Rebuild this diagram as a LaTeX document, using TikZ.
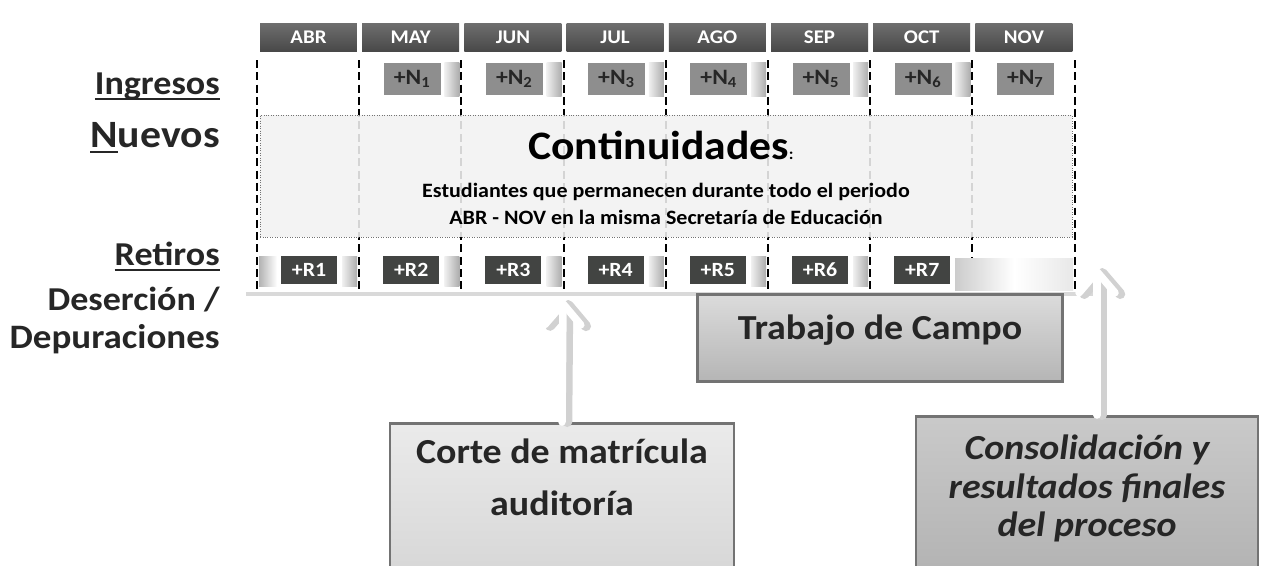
\documentclass[tikz,border=0pt]{standalone}
\usepackage{fontspec}
\setmainfont{Carlito}[FakeStretch=1.08]
\usetikzlibrary{shadows,arrows.meta,positioning}

\definecolor{tinta}{RGB}{38,38,38}
\definecolor{mestop}{RGB}{110,110,110}
\definecolor{mesbot}{RGB}{72,72,72}
\definecolor{ngris}{RGB}{142,142,142}
\definecolor{rgris}{RGB}{66,68,66}
\definecolor{fondo}{RGB}{242,242,242}
\newcommand{\tam}[1]{\fontsize{#1}{1.2\dimexpr#1pt\relax}\selectfont}
\newcommand{\subr}[1]{\setbox0\hbox{#1}\rlap{\rule[-3.5pt]{\wd0}{1.3pt}}\box0}

\begin{document}
\begin{tikzpicture}[x=0.02cm,y=-0.02cm,
	mes/.style={minimum width=1.94cm, minimum height=0.56cm, inner sep=0pt, top color=mestop, bottom color=mesbot, text=white, font=\bfseries\tam{11}},
	nbox/.style={minimum width=1.14cm, minimum height=0.64cm, inner sep=0pt, text height=8.5pt, text depth=2pt, fill=ngris, text=tinta, font=\bfseries\tam{12.5}},
	rbox/.style={minimum width=1.12cm, minimum height=0.56cm, inner sep=0pt, text height=7.5pt, text depth=0pt, fill=rgris, text=white, font=\bfseries\tam{11.5}},
	sep/.style={line width=1.1pt, dash pattern=on 4.5pt off 2.5pt},
	lab/.style={anchor=base east, inner sep=0pt, text=tinta, font=\bfseries\tam{19}},
	bisel/.style={draw=black!55, line width=1.6pt, text=tinta, inner sep=0pt},
	flecha/.style={line width=0.15cm, white, line cap=round, -{Straight Barb[length=0.42cm, width=0.72cm, round]}},
	sombra/.style={line width=0.2cm, black!18, line cap=round, -{Straight Barb[length=0.42cm, width=0.72cm, round]}}]
	\useasboundingbox (0,0) rectangle (1263,565);
	\clip (0,0) rectangle (1263,565);

	% panel de meses
	\path[fill=white, drop shadow={shadow xshift=0pt, shadow yshift=-2pt, opacity=0.3}] (246,12) rectangle (1093,292);

	\foreach \m [count=\i from 0] in {ABR,MAY,JUN,JUL,AGO,SEP,OCT,NOV}
		\node[mes] (m\i) at ({257+102.2*\i+51.5},37.5) {\m};

	\foreach \i in {0,...,8}
		\draw[sep] ({257+102.2*\i},60) -- ({257+102.2*\i},292);

	% ingresos nuevos
	\foreach \i in {1,...,6}
		\shade[left color=gray!12, right color=gray!65] ({257+102.2*(\i+1)-17},62) rectangle ({257+102.2*(\i+1)-2},96);
	\foreach \i in {1,...,7}
		\node[nbox] (n\i) at ({257+102.2*\i+53},79) {+N\textsubscript{\i}};

	% continuidades
	\node[draw=black!55, densely dotted, fill=fondo, fill opacity=0.88, minimum width=16.24cm, minimum height=2.44cm] (cont) at (666,176) {};
	\node[text=black, font=\bfseries\tam{23}] (tit) at (661,145) {Continuidades{\tam{9}:}};
	\node[text=black, font=\bfseries\tam{11.6}, align=center] (sub) at (666,204) {Estudiantes que permanecen durante todo el periodo\\[1pt] ABR - NOV en la misma Secretaría de Educación};

	% retiros
	\shade[left color=gray!60, right color=white] (259,256) rectangle (277,286);
	\foreach \i in {1,...,6}
		\shade[left color=gray!12, right color=gray!65] ({257+102.2*\i-17},256) rectangle ({257+102.2*\i-2},286);
	\shade[left color=gray!40, right color=gray!18, middle color=white] (955,258) rectangle (1073,290);
	\foreach \i in {1,...,7}
		\node[rbox] (r\i) at ({257+102.2*(\i-1)+52},269.5) {+R\i};

	% etiquetas
	\node[lab] (ing) at (220,94) {\subr{Ingresos}};
	\node[lab, font=\bfseries\tam{22}] (nue) at (220,147) {\subr{N}uevos};
	\node[lab] (ret) at (220,265) {\subr{Retiros}};
	\node[lab] (des) at (220,310) {Deserción /};
	\node[lab, font=\bfseries\tam{19.5}] (dep) at (220,348) {Depuraciones};

	% cajas de proceso
	\node[bisel, top color=gray!28, bottom color=gray!58, minimum width=7.3cm, minimum height=1.74cm, text depth=0.45cm, font=\bfseries\tam{20}] (campo) at (880,338) {Trabajo de Campo};
	\node[bisel, top color=gray!16, bottom color=gray!32, anchor=north, minimum width=6.88cm, minimum height=3.1cm, text depth=0.95cm, align=center, font=\bfseries\fontsize{20}{29.5}\selectfont] (corte) at (562,422) {Corte de matrícula\\ auditoría};
	\node[bisel, top color=gray!42, bottom color=gray!60, anchor=north, minimum width=6.84cm, minimum height=3.2cm, text depth=0.42cm, align=center, font=\bfseries\itshape\fontsize{20}{22}\selectfont] (conso) at (1087,415) {Consolidación y\\ resultados finales\\ del proceso};

	% flechas
	\coordinate (p1) at (563,300);
	\coordinate (p2) at (1097,268);
	\draw[sombra, transform canvas={xshift=3pt}] (corte.north) -- (p1);
	\draw[flecha] (corte.north) -- (p1);
	\draw[sombra, transform canvas={xshift=3pt}] (conso.north -| p2) -- (p2);
	\draw[flecha] (conso.north -| p2) -- (p2);
\end{tikzpicture}
\end{document}
